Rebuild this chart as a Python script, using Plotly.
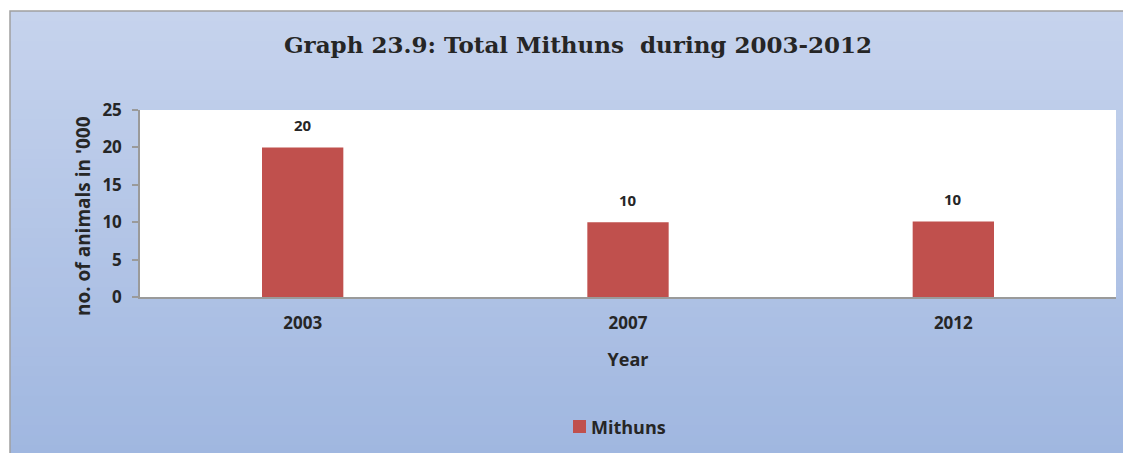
import plotly.graph_objects as go

years = ["2003", "2007", "2012"]
mithuns = [20, 10, 10.1]
y_ticks = [0, 5, 10, 15, 20, 25]
series_name = "Mithuns"
y_title = "no. of animals in '000"

W, H = 1123, 453
L, R, T, B = 140, 7, 110, 156
pw, ph = W - L - R, H - T - B

def px_x(px):
    return (px - L) / pw

def px_y(py):
    return (H - B - py) / ph

bar_color = "#c0504d"
fig = go.Figure()
fig.add_trace(go.Bar(
    x=years, y=mithuns, name=series_name,
    marker=dict(color=bar_color, line=dict(width=0)),
    hoverinfo="skip",
))

# gradient background bands
shapes = []
top_c = (198, 211, 237)
bot_c = (160, 183, 224)
n = 45
y0px, y1px = 11, H + 2
for i in range(n):
    a = y0px + (y1px - y0px) * i / n
    b = y0px + (y1px - y0px) * (i + 1) / n + 1
    t = i / (n - 1)
    c = tuple(round(top_c[k] + (bot_c[k] - top_c[k]) * t) for k in range(3))
    shapes.append(dict(type="rect", xref="paper", yref="paper", layer="below",
                       x0=px_x(10), x1=px_x(W + 5), y0=px_y(a), y1=px_y(b),
                       fillcolor="rgb(%d,%d,%d)" % c, line=dict(width=0)))
# plot area white
shapes.append(dict(type="rect", xref="paper", yref="paper", layer="below",
                   x0=0, x1=1, y0=0, y1=1, fillcolor="white", line=dict(width=0)))
# outer border
shapes.append(dict(type="rect", xref="paper", yref="paper", layer="below",
                   x0=px_x(10), x1=px_x(W + 5), y0=px_y(11), y1=px_y(H + 5),
                   fillcolor="rgba(0,0,0,0)", line=dict(color="#a0a0a0", width=1.5)))
# legend swatch
shapes.append(dict(type="rect", xref="paper", yref="paper",
                   x0=px_x(573), x1=px_x(586), y0=px_y(420), y1=px_y(433),
                   fillcolor=bar_color, line=dict(width=0)))

annotations = [dict(x=i, y=v, xref="x", yref="y", text="%d" % round(v), showarrow=False,
                    yanchor="bottom", yshift=10,
                    font=dict(family="Open Sans", size=15, color="#262626", weight="bold"))
               for i, v in enumerate(mithuns)]
annotations.append(dict(x=px_x(589), y=px_y(427), xref="paper", yref="paper",
                        text=series_name, showarrow=False, xanchor="left", yanchor="middle",
                        font=dict(family="Open Sans", size=18, color="#262626", weight="bold")))
annotations.append(dict(x=px_x(83), y=px_y(216), xref="paper", yref="paper",
                        text=y_title, showarrow=False, textangle=-90,
                        xanchor="center", yanchor="middle",
                        font=dict(family="Open Sans", size=19, color="#262626", weight="bold")))

fig.update_layout(
    width=W, height=H,
    margin=dict(l=L, r=R, t=T, b=B),
    paper_bgcolor="white", plot_bgcolor="white",
    shapes=shapes, annotations=annotations,
    bargap=0.75,
    title=dict(text="<b>Graph 23.9: Total Mithuns  during 2003-2012</b>",
               x=px_x(578), xref="paper", xanchor="center",
               y=1 - 45 / H, yref="container", yanchor="middle",
               font=dict(family="DejaVu Serif", size=23, color="#262626")),
    xaxis=dict(type="category", range=[-0.5, 2.5], showline=True, linecolor="#9a9a9a", linewidth=1.5,
               ticks="", showgrid=False, ticklabelstandoff=10,
               tickfont=dict(family="Open Sans", size=17, color="#262626", weight="bold"),
               title=dict(text="Year", standoff=20,
                          font=dict(family="Open Sans", size=18, color="#262626", weight="bold"))),
    yaxis=dict(range=[0, 25], tickvals=y_ticks, showline=True, linecolor="#9a9a9a", linewidth=1.5,
               ticks="outside", ticklen=6, tickcolor="#9a9a9a", tickwidth=1.5,
               showgrid=False, zeroline=False, ticklabelstandoff=7,
               tickfont=dict(family="Open Sans", size=17, color="#262626", weight="bold")),
    showlegend=False,
)

fig.write_html("out.html", config={"displayModeBar": False},
               post_script="document.body.style.margin='0';")
